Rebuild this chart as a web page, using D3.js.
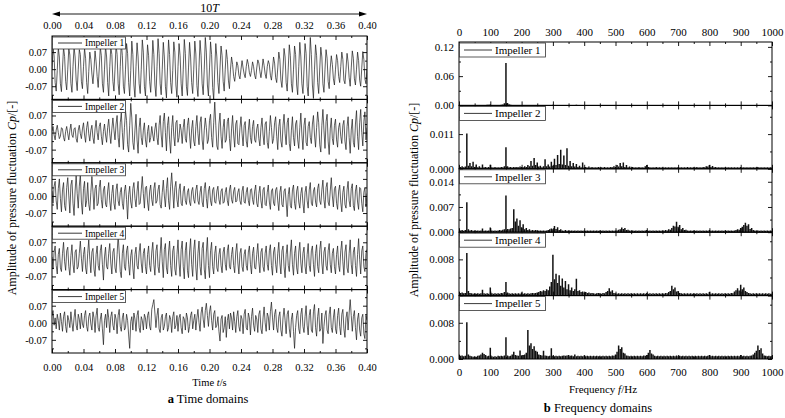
<!DOCTYPE html>
<html><head><meta charset="utf-8">
<script src="https://cdn.jsdelivr.net/npm/d3@7"></script>
<style>body{margin:0;background:#fff}svg{display:block}text{font-family:"Liberation Serif","Times New Roman",serif;fill:#000}</style>
</head><body><svg id="c" width="785" height="418"></svg>
<script>
// ---------- data ----------
const impellers = ["Impeller 1","Impeller 2","Impeller 3","Impeller 4","Impeller 5"];
const timeTicks = [0,0.04,0.08,0.12,0.16,0.20,0.24,0.28,0.32,0.36,0.40];
const timeMinor = [0.02,0.06,0.10,0.14,0.18,0.22,0.26,0.30,0.34,0.38];
const freqTicks = [0,100,200,300,400,500,600,700,800,900,1000];
const freqMinor = [50,150,250,350,450,550,650,750,850,950];
const timeEnd = 0.4;          // s
const freqStep = 5;           // Hz between spectrum samples
const timeUnit = 0.001;       // time-series values are in 1e-3
const specUnit = 0.0001;      // spectrum values are in 1e-4
const timeYTicks = [-0.07,0,0.07];
const timeYMinor = [-0.105,-0.035,0.035,0.105];
const timeYDomain = [-0.124,0.136];

// time domain (Cp x 1e-3), evenly spaced over 0..0.4 s
const imp1 = [
0,85,55,-55,-90, -5,88,50,-60,-92, 5,90,52,-50,-85, 0,86,58,-58,-95, 10,92,50,-45,-88, 0,80,60,-50,-80, 10,85,45,-55,-100, -10,70,40,-20,-60, 0,75,30,-30,-75, 5,90,55,-60,-95, 0,95,50,-55,-110, 10,92,60,-50,-90,
0,100,60,-60,-105, 10,110,55,-70,-100, 0,105,65,-55,-110, -5,115,60,-65,-115, 10,108,50,-60,-100, 0,120,70,-70,-110, 5,100,55,-50,-95, 0,118,60,-65,-112, 10,125,65,-60,-105, 0,110,50,-70,-118, 5,120,60,-55,-100, -5,112,70,-65,-115, 10,105,55,-60,-110, 0,122,65,-70,-108, 5,110,50,-55,-100, 0,115,62,-68,-112, 8,118,55,-60,-105, 0,130,70,-65,-110, 5,112,60,-75,-125, 0,105,50,-55,-100, 5,95,55,-50,-90,
0,80,40,-45,-80, 0,50,20,-30,-50,
-10,30,15,-25,-40, 0,35,5,-20,-35, 10,40,20,-15,-30, -5,30,10,-25,-40, 5,38,25,-10,-35, 0,42,15,-20,-38, 10,35,20,-25,-45, 0,50,25,-35,-55,
5,70,40,-45,-75, 0,85,50,-55,-90, 5,100,55,-60,-95, 0,95,60,-65,-105, 10,110,50,-60,-100, 0,105,65,-70,-110, 5,130,60,-65,-120, 0,100,55,-55,-100, 5,90,50,-60,-95, 0,80,45,-50,-80,
5,55,20,-40,-65, 0,60,35,-30,-55, 10,70,40,-45,-60, 0,65,30,-35,-70, 5,75,45,-40,-65, 0,70,35,-45,-70, 5,72,40,-40,-60, 0];
const imp2 = [
5,25,-10,-30,10,30,0,-25,-15,20,15,-20,-35,5,25,-5,-30,10,35,-10,-20,15,20,-25,-40,10,30,-5,-25,15,40,
-10,-40,20,45,-5,-35,10,30,-20,-45,15,50,0,-30,25,40,-15,-50,5,35,-10,-40,20,55,-5,-45,15,60,10,-30,
35,70,-20,-60,40,80,0,-70,20,90,50,-50,-80,30,120,60,-40,-70,10,75,-30,-85,20,60,-20,-50,10,40,-30,-60,
5,30,-40,-20,25,-10,-35,15,40,-20,-50,30,70,-10,-60,45,80,0,-75,30,65,-30,-85,20,70,-15,-55,40,50,-40,
-20,35,10,-45,20,55,-25,-40,30,60,-10,-65,15,50,-35,-55,25,70,-5,-50,40,65,-30,-70,10,60,20,-45,-30,50,
75,-20,-60,40,125,30,-55,-70,35,80,-15,-65,20,55,-40,-30,45,60,-25,-75,15,70,-10,-60,35,50,-45,-50,20,65,
-5,-55,30,45,-35,-60,10,55,-20,-45,25,50,-30,-40,15,35,-25,-55,20,60,-10,-50,35,45,-40,-65,5,70,20,-45,
-25,40,65,-15,-70,25,55,-35,-60,30,75,-5,-50,40,60,-45,-75,10,65,-20,-55,35,50,-30,-65,20,80,-10,-70,30,
60,-40,-55,25,45,-20,-45,35,70,-10,-60,20,85,40,-50,-80,30,95,10,-65,45,75,-35,-90,15,60,-25,-50,30,55,
-30,-60,20,40,-15,-45,30,50,-35,-70,25,65,-20,-85,10,55,-40,-60,35,90,-15,-70,40,95,0,-55,45,85,-30,20];
const imp3 = [
20,-30,40,60,-20,-55,30,70,-10,-65,25,55,-40,-60,35,75,0,-70,45,65,-30,-80,20,85,10,-50,40,90,-25,-75,30,
60,-45,-20,55,-35,-60,15,80,20,-55,30,45,-40,-30,35,65,-15,-50,25,40,-35,-45,20,55,-20,-60,10,45,-30,-55,
25,50,-20,-40,15,35,-30,-55,20,45,-15,-95,5,40,-25,-50,30,55,-10,-45,20,60,-35,-30,25,80,10,-50,35,40,
-25,-60,20,45,-15,-40,30,55,-30,-20,25,45,-35,-50,15,65,0,-45,30,75,-20,-55,40,95,20,-50,35,60,-15,-45,
25,50,-30,-40,20,40,-20,-35,15,30,-25,-40,20,35,-15,-30,25,45,-20,-35,15,40,-25,-45,30,55,-10,-50,20,40,
-20,-40,25,35,-25,-30,20,40,-15,-35,20,30,-30,-25,15,35,-20,-40,25,45,-15,-30,20,35,-25,-20,15,30,-20,-35,
20,40,-25,-30,15,35,-20,-40,25,30,-15,-35,20,45,-30,-45,10,40,-20,-50,25,35,-35,-40,15,45,-25,-55,20,30,
-30,-40,25,35,-20,-60,15,40,-35,-45,20,30,-25,-85,5,35,-40,-50,25,45,-30,-55,20,40,-25,-50,10,35,-30,-70,
15,40,-20,-50,25,55,-30,-40,20,35,-25,-45,30,50,-20,-35,25,65,-15,-50,35,55,-25,-40,20,75,0,-45,30,40,
-30,-55,20,45,-25,-65,15,40,-35,-50,25,60,-20,-45,30,50,-40,-60,20,45,-25,-55,35,30,-30,-65,15,35,-45,10];
const imp4 = [
10,-40,30,55,-25,-60,20,45,-35,-50,25,70,-10,-45,35,50,-30,-65,15,60,-20,-55,30,40,-40,-30,25,75,5,-50,20,
50,-35,-60,25,80,0,-55,30,45,-40,-70,20,55,-25,-45,35,60,-20,-85,10,50,-30,-40,25,65,-15,-60,30,45,-35,
-55,20,100,30,-50,-75,25,60,-30,-45,35,55,-20,-65,15,40,-35,-80,20,50,-25,-40,30,65,-15,-55,25,45,-30,-60,
20,55,-25,-50,30,70,-20,-65,35,60,-30,-55,25,90,-10,-75,40,65,-35,-60,30,75,-25,-70,35,55,-40,-65,20,80,
-15,-70,40,75,-30,-80,35,70,-45,-75,30,85,-20,-70,40,80,-35,-85,25,75,-30,-65,45,70,-40,-80,30,90,-25,-75,
35,70,-30,-60,25,55,-35,-50,20,45,-25,-55,30,50,-20,-45,35,60,-30,-40,20,50,-25,-55,30,65,-15,-60,25,45,
-30,-50,20,40,-25,-45,30,55,-20,-60,25,50,-35,-40,20,65,-10,-55,30,45,-30,-50,25,55,-20,-45,35,60,-25,-65,
30,50,-20,-55,25,70,-15,-60,35,55,-30,-75,20,60,-25,-50,30,80,-20,-65,25,55,-35,-60,30,70,-15,-55,25,50,
-30,-60,20,65,-25,-50,35,55,-20,-70,25,60,-30,-55,40,75,-15,-60,30,50,-25,-45,35,65,-20,-55,25,45,-30,-60,
20,55,-25,-50,35,75,-10,-65,30,60,-35,-55,25,80,-20,-60,30,50,-25,-70,20,85,0,-60,35,55,-30,-50,25,40];
const imp5 = [
30,50,-10,20,-25,35,10,-30,40,5,-35,25,45,-15,-40,30,10,-20,45,0,-35,20,55,-10,-30,35,15,-25,40,-5,-20,
30,50,-15,-35,25,40,-5,-30,45,20,-40,30,60,-20,-35,15,40,-25,-90,10,35,-20,55,20,-40,25,45,-10,-30,35,
15,-45,30,55,-15,-35,20,40,-30,-20,35,10,-50,-105,5,25,-30,40,15,-35,30,50,-20,-40,25,10,-30,35,20,-25,
30,45,-15,-30,55,75,95,40,-20,30,60,-25,-40,20,35,-30,-15,25,40,-35,-20,30,15,-40,25,45,-25,-10,30,-35,
20,35,-20,-45,25,15,-30,40,20,-40,-15,30,45,-25,10,35,-30,20,55,0,-35,40,65,15,-20,50,80,30,-15,45,
70,10,-30,35,50,-20,-10,25,-35,-75,15,30,-40,-20,25,-60,10,35,-25,40,20,-30,45,5,-40,25,50,-15,-35,30,
15,-45,35,55,-20,-30,40,20,-50,25,60,-10,-35,30,15,-40,35,50,-25,-45,20,65,0,-35,40,25,-30,45,85,20,
-30,35,55,-20,-40,25,45,-30,-55,20,60,10,-45,35,50,-25,-60,15,40,-35,-105,-20,30,50,-25,-45,35,60,-15,-40,
25,70,-10,-50,30,55,-30,-40,45,75,-20,-55,25,60,-35,-25,40,-85,-15,30,50,-30,-45,35,65,-20,-40,20,55,-25,
-45,30,60,-15,-50,35,55,-25,-60,20,45,-30,40,95,30,-35,25,50,-20,-70,15,40,-30,-55,20,35,-45,-65,30,10];
const timeSeries = [imp1,imp2,imp3,imp4,imp5];

// frequency domain (amplitude x 1e-4), one value every 5 Hz from 0 to 1000 Hz
const spec1 = [
8,6,5,4,6,5,4,5,3,4,5,4,6,5,4,5,6,8,12,15,20,
10,7,6,5,6,8,12,20,45,870,50,22,12,8,6,5,4,5,4,6,
4,5,4,3,4,5,4,3,4,5,6,5,4,5,6,7,8,10,9,15,
10,7,5,4,4,5,4,5,6,5,4,5,6,8,12,8,5,4,4,5,
4,3,4,3,4,3,4,3,4,5,4,3,4,3,4,3,4,3,4,5,
4,3,4,3,4,3,4,3,4,3,4,3,4,3,4,3,4,3,4,5,
4,3,4,3,4,3,4,3,4,3,4,3,4,3,4,3,4,3,4,4,
3,4,3,4,3,4,3,4,3,4,3,4,3,4,3,4,3,4,3,5,
3,4,3,4,3,4,3,4,3,4,3,4,3,4,3,4,3,4,3,4,
3,4,3,4,3,4,3,4,3,4,3,4,3,4,3,4,3,4,3,4];
const spec2 = [
10,6,8,5,7,112,10,18,8,22,6,14,5,8,4,14,5,6,4,6,13,
5,4,6,4,5,4,6,5,8,68,8,5,6,4,6,5,6,5,7,6,
5,8,6,12,8,25,10,34,12,20,7,10,5,8,30,8,14,7,22,10,
32,12,44,15,60,14,42,12,65,10,25,8,18,7,15,6,10,5,20,5,
6,4,7,4,6,4,5,4,6,4,5,4,6,4,5,4,6,5,8,6,
12,7,18,8,20,6,12,5,7,4,6,4,5,4,6,4,5,4,8,12,
6,5,4,5,4,6,4,5,4,5,4,5,4,5,4,5,4,5,4,6,
4,5,4,5,4,6,4,5,4,5,4,6,4,5,4,6,5,8,7,12,
6,9,5,6,4,5,4,5,4,5,4,5,4,5,4,5,4,5,4,6,
4,5,4,5,4,5,4,5,4,5,6,4,5,4,5,4,5,4,5,4];
const spec3 = [
8,5,6,4,6,83,8,5,6,4,5,4,5,4,5,10,4,5,4,5,13,
5,4,5,4,5,6,5,7,8,102,9,8,10,12,64,30,38,18,33,14,
22,8,12,6,8,5,6,5,6,5,4,5,4,5,4,5,6,8,10,8,
17,9,14,6,8,5,4,6,4,5,4,5,4,5,4,5,4,5,4,5,
4,5,4,5,4,5,4,5,4,5,4,5,4,5,4,5,4,5,4,5,
5,7,8,13,9,12,6,7,5,4,5,4,5,4,5,4,5,4,5,6,
4,5,4,5,4,5,4,5,4,5,4,6,5,8,7,12,18,16,29,15,
20,8,12,6,7,5,4,5,4,5,4,5,4,5,4,5,4,5,4,6,
4,5,4,5,4,5,4,5,4,5,4,5,4,5,4,5,6,8,7,12,
15,20,26,18,22,9,12,6,5,4,5,4,5,4,5,4,5,4,5,4];
const spec4 = [
8,6,7,5,6,94,10,6,5,4,5,4,5,4,5,13,5,4,5,4,18,
5,4,5,4,5,4,6,5,8,30,7,5,4,5,4,5,4,5,4,7,
4,5,4,5,4,5,6,5,6,7,8,10,9,12,10,14,12,20,30,90,
36,48,28,45,22,38,18,32,14,25,12,18,10,14,37,10,12,8,9,7,
8,6,7,5,6,5,4,5,6,5,4,6,5,8,10,16,9,12,6,5,
4,5,4,5,4,5,4,5,4,5,4,5,4,5,4,5,4,5,4,6,
4,5,4,5,4,5,4,5,4,5,4,6,5,8,10,22,14,18,9,10,
6,5,4,5,4,5,4,5,4,5,4,5,4,5,4,5,4,5,4,8,
4,5,4,5,4,5,4,5,4,5,4,5,4,6,5,9,12,16,11,24,
14,18,10,8,6,5,4,5,4,5,4,5,4,5,4,5,4,5,4,4];
const spec5 = [
10,7,8,6,7,81,10,7,6,5,6,5,7,8,10,14,11,9,6,7,25,
6,5,6,5,7,6,7,6,8,48,8,6,7,10,16,9,8,7,19,8,
9,10,14,64,30,35,22,28,18,16,10,9,8,18,8,7,6,7,24,7,
6,7,6,7,6,7,8,7,8,9,7,8,6,10,6,7,6,7,6,8,
6,7,6,7,6,7,6,7,6,7,6,7,6,7,6,7,6,8,7,10,
16,30,22,26,14,12,8,7,6,7,6,7,6,7,6,7,6,8,7,9,
14,20,12,10,7,6,7,6,7,6,7,6,7,6,7,6,7,6,8,6,
7,6,7,6,7,6,7,6,7,6,7,6,7,6,7,6,7,6,7,9,
6,7,6,7,6,7,6,7,6,7,6,7,6,7,6,7,6,7,6,9,
6,7,6,7,6,7,8,10,14,18,30,20,24,12,8,7,6,7,6,7];
const spectra = [spec1,spec2,spec3,spec4,spec5];
const specYMax = [0.13,0.0201,0.0176,0.014,0.014];
const specYTicks = [[0,0.06,0.12],[0,0.011],[0,0.007,0.014],[0,0.008],[0,0.008]];
const specYMinor = [[0.03,0.09],[0.0055,0.0165],[0.0035,0.0105],[0.004,0.012],[0.004,0.012]];
const specDecimals = [2,3,3,3,3];

// ---------- drawing ----------
const svg = d3.select("#c");
const FONT = '"Liberation Serif","Times New Roman",serif';
const defs = svg.append("defs");

function axis(gen, tr, vals, size, fmt, pad, fs){
  const a = svg.append("g").attr("transform", tr)
    .call(gen.tickValues(vals).tickSize(size).tickSizeOuter(0).tickPadding(pad).tickFormat(fmt));
  a.select(".domain").remove();
  a.attr("font-family", FONT).attr("font-size", fs);
  a.selectAll("line").attr("stroke", "#000").attr("stroke-width", 0.9);
  a.selectAll("text").attr("fill", "#000");
  return a;
}

function chart(cfg){
  const {x, xMajor, xMinor, xFmt, top0, bottom, n, yDomain, yMajor, yMinor, yFmt, data, xOf,
         topPad, botPad, fs, legend, strokeW, yPad, stems} = cfg;
  const h = (bottom - top0) / n;
  const [xa, xb] = x.range();
  for (let k = 0; k < n; k++){
    const top = top0 + k*h, bot = top + h;
    const y = d3.scaleLinear().domain(yDomain(k)).range([bot, top]);
    const id = "clip" + cfg.name + k;
    defs.append("clipPath").attr("id", id).append("rect")
      .attr("x", xa).attr("y", top).attr("width", xb - xa).attr("height", h);
    const vals = data[k];
    const g = svg.append("g").attr("clip-path", `url(#${id})`);
    if (stems){
      g.selectAll("line").data(vals).join("line")
        .attr("x1", (d,i) => x(xOf(i, vals.length))).attr("x2", (d,i) => x(xOf(i, vals.length)))
        .attr("y1", y(0) + 0.5).attr("y2", d => y(d))
        .attr("stroke", "#111").attr("stroke-width", strokeW);
    } else {
      const line = d3.line().x((d,i) => x(xOf(i, vals.length))).y(d => y(d));
      g.append("path").attr("d", line(vals)).attr("fill", "none").attr("stroke", "#1a1a1a")
        .attr("stroke-width", strokeW);
    }
    // axes (inward ticks)
    axis(d3.axisLeft(y), `translate(${xa},0)`, yMajor(k), -4, yFmt(k), yPad, fs);
    axis(d3.axisLeft(y), `translate(${xa},0)`, yMinor(k), -2, "", 0, fs);
    axis(d3.axisRight(y), `translate(${xb},0)`, yMajor(k), -4, "", 0, fs);
    axis(d3.axisRight(y), `translate(${xb},0)`, yMinor(k), -2, "", 0, fs);
    axis(d3.axisTop(x), `translate(0,${top})`, xMajor, -4, k === 0 ? xFmt : "", topPad, fs);
    axis(d3.axisTop(x), `translate(0,${top})`, xMinor, -2, "", 0, fs);
    axis(d3.axisBottom(x), `translate(0,${bot})`, xMajor, -4, k === n-1 ? xFmt : "", botPad, fs);
    axis(d3.axisBottom(x), `translate(0,${bot})`, xMinor, -2, "", 0, fs);
    svg.append("rect").attr("x", xa).attr("y", top).attr("width", xb - xa).attr("height", h)
      .attr("fill", "none").attr("stroke", "#000").attr("stroke-width", 1);
    // legend
    const L = legend;
    svg.append("rect").attr("x", xa + 0.5).attr("y", top + 1).attr("width", L.w).attr("height", L.h)
      .attr("fill", "#fff").attr("stroke", "#333").attr("stroke-width", 0.8);
    svg.append("line").attr("x1", xa + L.l0).attr("x2", xa + L.l1)
      .attr("y1", top + 1 + L.h/2).attr("y2", top + 1 + L.h/2).attr("stroke", "#222").attr("stroke-width", 0.9);
    svg.append("text").attr("x", xa + L.tx).attr("y", top + 1 + L.h/2).attr("dy", "0.35em")
      .attr("font-size", L.fs).text(impellers[k]);
  }
}

// ---- left: time domains ----
const xT = d3.scaleLinear().domain([0, timeEnd]).range([52, 367]);
chart({name:"t", x:xT, xMajor:timeTicks, xMinor:timeMinor, xFmt:d => d.toFixed(2),
  top0:36, bottom:353, n:5, yDomain:() => timeYDomain, yMajor:() => timeYTicks, yMinor:() => timeYMinor,
  yFmt:() => (d => d.toFixed(2)), data:timeSeries.map(s => s.map(v => v*timeUnit)),
  xOf:(i, len) => i*timeEnd/(len-1), topPad:7, botPad:11, fs:10.5, yPad:5, strokeW:0.7,
  legend:{w:73, h:12, l0:6, l1:30, tx:33, fs:9.5}});

// ---- right: frequency domains ----
const xF = d3.scaleLinear().domain([0, 1000]).range([459, 772]);
chart({name:"f", x:xF, xMajor:freqTicks, xMinor:freqMinor, xFmt:d => String(d),
  top0:42, bottom:359, n:5, yDomain:k => [0, specYMax[k]], yMajor:k => specYTicks[k], yMinor:k => specYMinor[k],
  yFmt:k => (d => d.toFixed(specDecimals[k])), data:spectra.map(s => s.map(v => v*specUnit)),
  xOf:(i) => i*freqStep, topPad:6.5, botPad:9, fs:11, yPad:5, strokeW:1.5, stems:true,
  legend:{w:86, h:14, l0:5, l1:33, tx:36, fs:11}});

// ---- titles ----
const ay = 14, ax0 = xT(0), ax1 = xT(timeEnd);
svg.append("line").attr("x1", ax0 + 4).attr("x2", ax1 - 4).attr("y1", ay).attr("y2", ay)
  .attr("stroke", "#000").attr("stroke-width", 0.9);
svg.append("path").attr("d", `M${ax0},${ay}L${ax0+8},${ay-2.5}L${ax0+8},${ay+2.5}Z`).attr("fill", "#000");
svg.append("path").attr("d", `M${ax1},${ay}L${ax1-8},${ay-2.5}L${ax1-8},${ay+2.5}Z`).attr("fill", "#000");
const t10 = svg.append("text").attr("x", xT(timeEnd/2)).attr("y", 8).attr("dy", "0.35em")
  .attr("text-anchor", "middle").attr("font-size", 12);
t10.append("tspan").text("10");
t10.append("tspan").attr("font-style", "italic").text("T");

function ylabel(x, y){
  const t = svg.append("text").attr("transform", `translate(${x},${y}) rotate(-90)`)
    .attr("text-anchor", "middle").attr("dy", "0.35em").attr("font-size", 12);
  t.append("tspan").text("Amplitude of pressure fluctuation ");
  t.append("tspan").attr("font-style", "italic").text("Cp");
  t.append("tspan").text("/[-]");
}
ylabel(12, 198);
ylabel(414, 200);

const tx = svg.append("text").attr("x", xT(timeEnd/2)).attr("y", 382).attr("dy", "0.35em")
  .attr("text-anchor", "middle").attr("font-size", 10.5);
tx.append("tspan").text("Time ");
tx.append("tspan").attr("font-style", "italic").text("t");
tx.append("tspan").text("/s");

const fx = svg.append("text").attr("x", 603).attr("y", 389).attr("dy", "0.35em")
  .attr("text-anchor", "middle").attr("font-size", 11);
fx.append("tspan").text("Frequency  ");
fx.append("tspan").attr("font-style", "italic").text("f");
fx.append("tspan").text("/Hz");

const ca = svg.append("text").attr("x", 208).attr("y", 399).attr("dy", "0.35em")
  .attr("text-anchor", "middle").attr("font-size", 12.5);
ca.append("tspan").attr("font-weight", "bold").text("a");
ca.append("tspan").text("  Time domains");

const cb = svg.append("text").attr("x", 598).attr("y", 408).attr("dy", "0.35em")
  .attr("text-anchor", "middle").attr("font-size", 12.5);
cb.append("tspan").attr("font-weight", "bold").text("b");
cb.append("tspan").text("  Frequency domains");
</script></body></html>
